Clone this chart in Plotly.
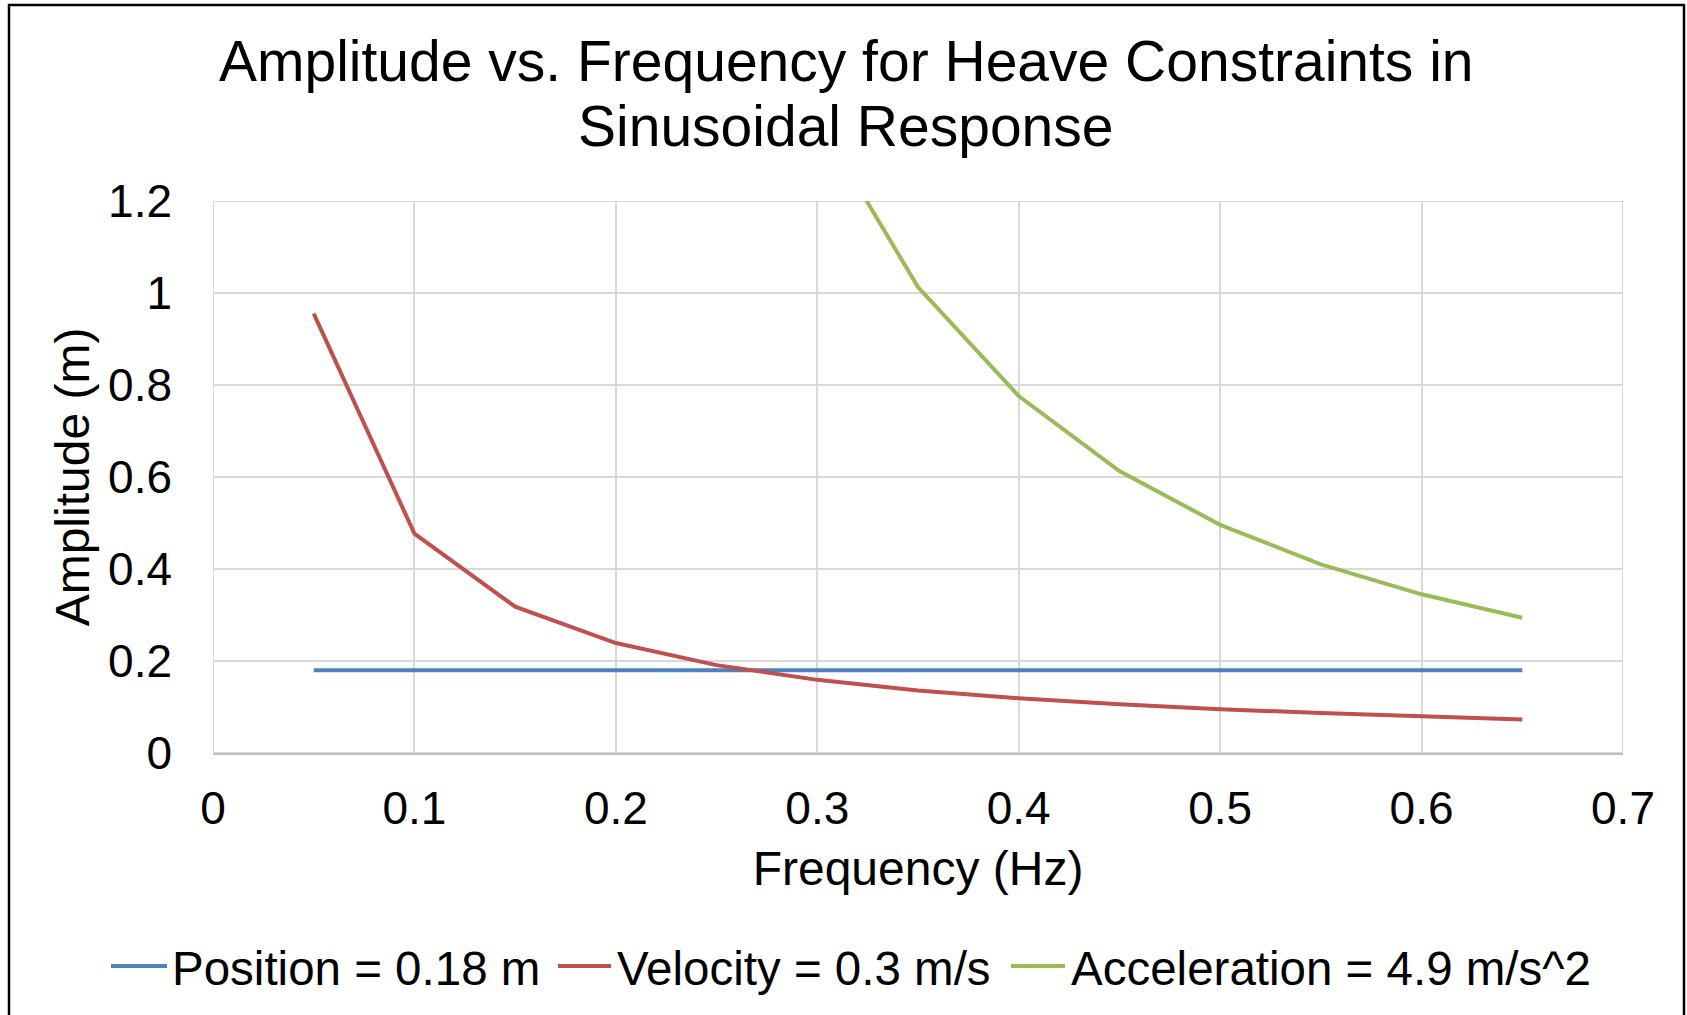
import plotly.graph_objects as go

frequency = [0.05, 0.10, 0.15, 0.20, 0.25, 0.30, 0.35, 0.40, 0.45, 0.50, 0.55, 0.60, 0.65]
position = [0.18, 0.18, 0.18, 0.18, 0.18, 0.18, 0.18, 0.18, 0.18, 0.18, 0.18, 0.18, 0.18]
velocity = [0.955, 0.477, 0.318, 0.239, 0.191, 0.159, 0.136, 0.119, 0.106, 0.095, 0.087, 0.080, 0.073]
acceleration = [49.6, 12.4, 5.52, 3.10, 1.99, 1.38, 1.013, 0.776, 0.613, 0.496, 0.410, 0.345, 0.294]

names = ["Position = 0.18 m", "Velocity = 0.3 m/s", "Acceleration = 4.9 m/s^2"]
colors = ["#4F81BD", "#C0504D", "#9BBB59"]
title_lines = ["Amplitude vs. Frequency for Heave Constraints in", "Sinusoidal Response"]
x_ticks = [0, 0.1, 0.2, 0.3, 0.4, 0.5, 0.6, 0.7]
x_ticktext = ["0", "0.1", "0.2", "0.3", "0.4", "0.5", "0.6", "0.7"]
y_ticks = [0, 0.2, 0.4, 0.6, 0.8, 1.0, 1.2]
y_ticktext = ["0", "0.2", "0.4", "0.6", "0.8", "1", "1.2"]

FONT = "Arial, Liberation Sans, Helvetica, sans-serif"
W, H = 1687, 1015
L, R, T, B = 213, 1623, 201, 753

def px(x):
    return (x - L) / (R - L)

def py(y):
    return (B - y) / (B - T)

fig = go.Figure()
for name, ys, c in zip(names, [position, velocity, acceleration], colors):
    fig.add_trace(go.Scatter(x=frequency, y=ys, mode="lines", name=name,
                             line=dict(color=c, width=4), showlegend=False))

fig.update_layout(
    width=W, height=H,
    margin=dict(l=L, r=W - R, t=T, b=H - B, autoexpand=False),
    paper_bgcolor="white", plot_bgcolor="white",
    font=dict(family=FONT, color="black"),
    showlegend=False,
    xaxis=dict(range=[0, 0.7], tickvals=x_ticks, ticktext=x_ticktext,
               showgrid=True, gridcolor="#D9D9D9", gridwidth=2,
               showline=True, linecolor="#BFBFBF", linewidth=2,
               zeroline=False, ticks="", tickfont=dict(size=46),
               ticklabelstandoff=14,
               title=dict(text="Frequency (Hz)", font=dict(size=48), standoff=18)),
    yaxis=dict(range=[0, 1.2], tickvals=y_ticks, ticktext=y_ticktext,
               showgrid=True, gridcolor="#D9D9D9", gridwidth=2,
               showline=False, zeroline=False, ticks="", tickfont=dict(size=46),
               ticklabelstandoff=40,
               title=dict(text="Amplitude (m)", font=dict(size=48), standoff=3)),
)

# plot-area outline (top / right / left gridlines at range edges)
fig.add_shape(type="rect", xref="x", yref="y", x0=0, x1=0.7, y0=0, y1=1.2,
              line=dict(color="#D9D9D9", width=2), fillcolor="rgba(0,0,0,0)", layer="below")

# chart-area border
fig.add_shape(type="rect", xref="paper", yref="paper",
              x0=px(9), x1=px(1684), y0=py(1030), y1=py(5),
              line=dict(color="black", width=2.5), fillcolor="rgba(0,0,0,0)", layer="above")

# title (two lines)
for line, yc in zip(title_lines, [61, 126]):
    fig.add_annotation(text=line, xref="paper", yref="paper", x=px(846), y=py(yc),
                       xanchor="center", yanchor="middle", showarrow=False,
                       font=dict(size=57, family=FONT, color="black"))

# legend (drawn below the plot area)
legend_sample_x = [(111, 167), (558, 611), (1011, 1065)]
legend_text_x = [170, 615, 1069]
legend_y = 966
for name, c, (s0, s1), tx in zip(names, colors, legend_sample_x, legend_text_x):
    fig.add_shape(type="line", xref="paper", yref="paper",
                  x0=px(s0), x1=px(s1), y0=py(legend_y), y1=py(legend_y),
                  line=dict(color=c, width=4))
    fig.add_annotation(text=name, xref="paper", yref="paper", x=px(tx), y=py(legend_y + 2),
                       xanchor="left", yanchor="middle", showarrow=False,
                       font=dict(size=47.5, family=FONT, color="black"))

fig.write_html("out.html")
